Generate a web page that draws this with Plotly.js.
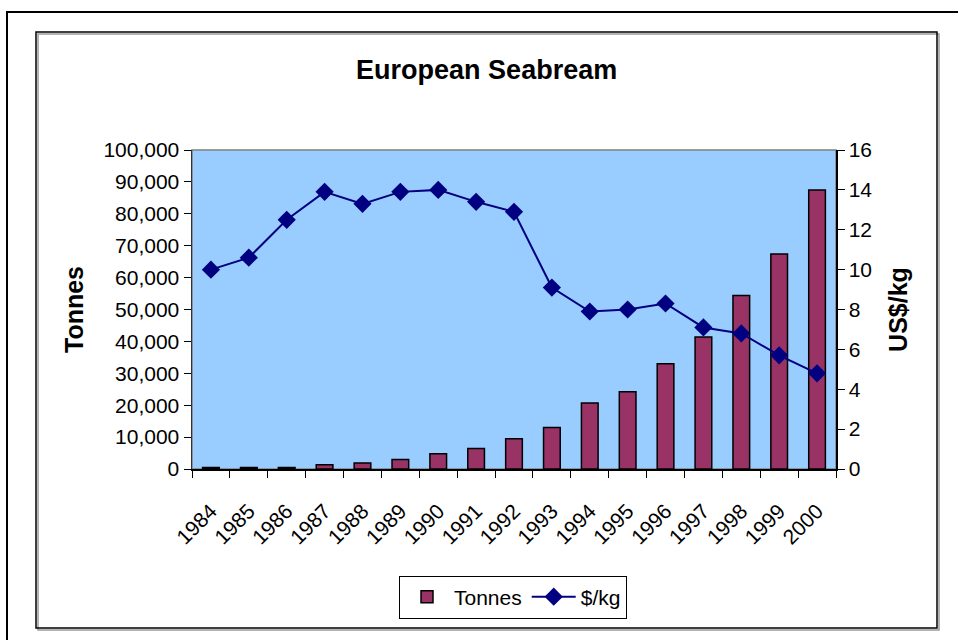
<!DOCTYPE html>
<html>
<head>
<meta charset="utf-8">
<script src="https://cdn.plot.ly/plotly-3.0.1.min.js"></script>
<style>
  html, body { margin: 0; padding: 0; background: #ffffff; }
  #chart { width: 958px; height: 640px; }
</style>
</head>
<body>
<div id="chart"></div>
<script>
const years = ["1984","1985","1986","1987","1988","1989","1990","1991","1992",
               "1993","1994","1995","1996","1997","1998","1999","2000"];
const tonnes = [500, 500, 500, 1300, 1900, 3000, 4800, 6400, 9500,
                13000, 20700, 24200, 33000, 41400, 54400, 67400, 87500];
const pricePerKg = [10.0, 10.6, 12.5, 13.9, 13.3, 13.9, 14.0, 13.4, 12.9,
                    9.1, 7.9, 8.0, 8.3, 7.1, 6.8, 5.7, 4.8];

const FONT = "Liberation Sans, Arial, sans-serif";

const traces = [
  {
    type: "bar",
    name: "Tonnes",
    x: years,
    y: tonnes,
    width: 0.44,
    marker: { color: "#993366", line: { color: "#000000", width: 1.5 } },
    yaxis: "y"
  },
  {
    type: "scatter",
    mode: "lines+markers",
    name: "$/kg",
    x: years,
    y: pricePerKg,
    line: { color: "#000080", width: 2 },
    marker: { symbol: "diamond", size: 14, color: "#000080" },
    yaxis: "y2"
  }
];

// plot area: x 192..836, y 150..469 (px)
const L = 192, R = 836, T = 150, B = 469, W = 958, H = 640;
const px = x => (x - L) / (R - L);
const py = y => (B - y) / (B - T);

const layout = {
  width: W, height: H,
  margin: { l: L, r: W - R, t: T, b: H - B, pad: 0 },
  paper_bgcolor: "#ffffff",
  plot_bgcolor: "#99CCFF",
  font: { family: FONT, size: 21, color: "#000000" },
  title: {
    text: "<b>European Seabream</b>",
    font: { family: FONT, size: 27, color: "#000000" },
    x: 0.508, xanchor: "center",
    y: 1 - 70 / H, yanchor: "middle"
  },
  showlegend: true,
  legend: {
    orientation: "h",
    x: px(513), xanchor: "center",
    y: py(597), yanchor: "middle",
    bgcolor: "#ffffff",
    bordercolor: "#000000",
    borderwidth: 1,
    font: { family: FONT, size: 21, color: "#000000" },
    itemwidth: 44
  },
  xaxis: {
    type: "category",
    range: [-0.5, years.length - 0.5],
    tickangle: -45,
    ticks: "outside",
    tickson: "boundaries",
    ticklen: 7,
    tickcolor: "#000000",
    ticklabelstandoff: 20,
    showline: true,
    linecolor: "#000000",
    linewidth: 1.5,
    showgrid: false,
    zeroline: false,
    tickfont: { family: FONT, size: 21, color: "#000000" }
  },
  yaxis: {
    range: [0, 100000],
    dtick: 10000,
    tickformat: ",",
    ticks: "outside",
    ticklen: 7,
    tickcolor: "#000000",
    showline: true,
    linecolor: "#333333",
    linewidth: 1.5,
    showgrid: false,
    zeroline: false,
    tickfont: { family: FONT, size: 21, color: "#000000" },
    title: { text: "<b>Tonnes</b>", font: { family: FONT, size: 25, color: "#000000" }, standoff: 12 }
  },
  yaxis2: {
    overlaying: "y",
    side: "right",
    range: [0, 16],
    dtick: 2,
    ticks: "outside",
    ticklen: 7,
    tickcolor: "#000000",
    showline: true,
    linecolor: "#000000",
    linewidth: 1.5,
    showgrid: false,
    zeroline: false,
    tickfont: { family: FONT, size: 21, color: "#000000" },
    title: { text: "<b>US$/kg</b>", font: { family: FONT, size: 25, color: "#000000" }, standoff: 18 }
  },
  shapes: [
    // outer frame
    { type: "rect", xref: "paper", yref: "paper",
      x0: px(7), x1: px(990), y0: py(670), y1: py(12),
      line: { color: "#000000", width: 2 }, fillcolor: "rgba(0,0,0,0)" },
    // inner chart frame shadow
    { type: "rect", xref: "paper", yref: "paper",
      x0: px(38), x1: px(939), y0: py(630), y1: py(34),
      line: { color: "#9a9a9a", width: 1.5 }, fillcolor: "rgba(0,0,0,0)" },
    // inner chart frame
    { type: "rect", xref: "paper", yref: "paper",
      x0: px(36), x1: px(937), y0: py(628), y1: py(32),
      line: { color: "#000000", width: 1.5 }, fillcolor: "rgba(0,0,0,0)" },
    // plot area border
    { type: "rect", xref: "paper", yref: "paper", layer: "below",
      x0: 0, x1: 1, y0: 0, y1: 1,
      line: { color: "#808080", width: 1.5 }, fillcolor: "rgba(0,0,0,0)" }
  ]
};

Plotly.newPlot("chart", traces, layout, { displayModeBar: false, staticPlot: true });
</script>
</body>
</html>
